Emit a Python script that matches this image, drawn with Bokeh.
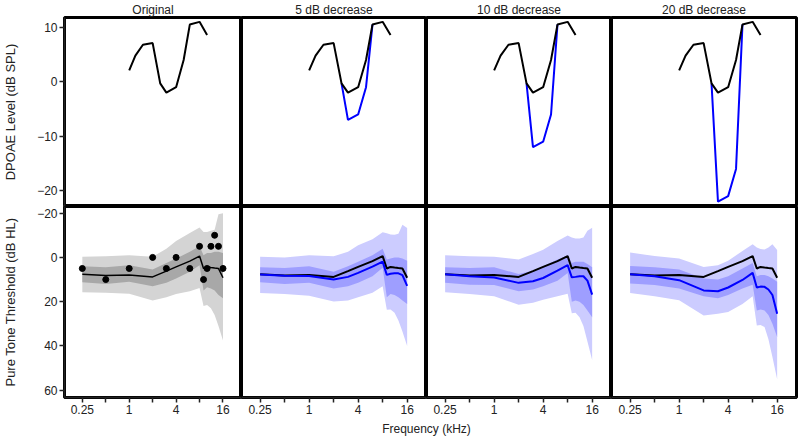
from bokeh.plotting import figure
from bokeh.layouts import gridplot, column
from bokeh.models import Range1d, FixedTicker
from bokeh.embed import file_html
from bokeh.resources import INLINE
from bokeh.core.properties import value

FONT = "Liberation Sans"

# ---------------- data ----------------
titles = ["Original", "5 dB decrease", "10 dB decrease", "20 dB decrease"]

# DPOAE (top row)
dp_freq = [1, 1.2, 1.5, 2, 2.5, 3, 4, 5, 6, 8, 10]
dp_orig = [2.1, 4.8, 6.8, 7.1, -0.3, -2.0, -1.0, 4.0, 10.5, 11.0, 8.6]
dp_dec_freq = [2.5, 3, 4, 5, 6]
dp_dec = {
    "5":  [-0.3, -7.0, -6.0, -1.0, 10.5],
    "10": [-0.3, -12.0, -11.0, -6.0, 10.5],
    "20": [-0.3, -22.0, -21.0, -16.0, 10.5],
}

# Pure tone thresholds (bottom row)
pt_freq = [0.25, 0.5, 1, 2, 3, 4, 6, 8, 9, 10, 11.2, 12.5, 14, 16]
pt_measured = [5, 10, 5, 0, 5, 0, 5, -5, 10, 5, -5, -10, -5, 5]

orig_med    = [7.6, 8.2, 7.9, 8.8, 6.2, 4.3, 1.7, -0.6, 5.0, 4.3, 4.6, 4.8, 5.0, 9.2]
orig_in_lo  = [4.0, 4.5, 3.6, 5.5, 2.5, 0.5, -2.5, -5.0, -1.0, -2.0, -2.0, -2.5, -2.5, -2.0]
orig_in_hi  = [11.2, 12.0, 11.0, 13.0, 11.5, 9.5, 6.5, 3.5, 15.0, 13.5, 14.0, 15.0, 17.0, 18.5]
orig_out_lo = [-0.3, -0.5, -1.0, -0.3, -3.9, -7.4, -11.0, -13.5, -11.5, -11.5, -12.0, -12.5, -19.5, -20.0]
orig_out_hi = [15.8, 16.0, 16.4, 19.5, 18.0, 16.5, 15.3, 13.8, 22.0, 21.5, 23.0, 26.0, 31.0, 37.5]

dec_med = {
    "5":  [7.7, 8.3, 8.4, 10.0, 8.8, 7.0, 4.2, 1.9, 7.9, 7.4, 7.2, 7.2, 8.0, 12.9],
    "10": [7.6, 8.5, 9.1, 11.5, 10.8, 9.3, 6.0, 3.5, 9.0, 8.8, 8.5, 8.5, 10.5, 16.8],
    "20": [7.6, 8.5, 10.3, 14.9, 15.3, 13.6, 10.2, 7.0, 13.6, 13.2, 13.3, 14.5, 17.0, 25.5],
}
dec_in_lo = {
    "5":  [4.4, 4.8, 4.0, 6.5, 4.0, 2.0, -1.0, -3.9, 1.0, 0.5, 0.0, 0.0, 0.5, 1.5],
    "10": [4.4, 4.8, 4.5, 7.5, 6.0, 4.0, 1.0, -0.9, 2.5, 2.0, 2.0, 2.0, 3.0, 4.5],
    "20": [3.9, 4.5, 5.5, 9.5, 10.0, 8.5, 5.0, 2.5, 8.5, 8.0, 8.0, 8.5, 9.5, 11.0],
}
dec_in_hi = {
    "5":  [11.2, 12.0, 11.5, 14.0, 13.0, 11.5, 8.5, 4.7, 18.0, 16.5, 17.0, 18.0, 19.5, 21.0],
    "10": [11.5, 12.3, 12.5, 15.3, 14.5, 13.0, 10.5, 7.0, 20.0, 19.5, 20.0, 21.5, 24.0, 27.0],
    "20": [11.8, 12.5, 14.0, 17.6, 18.5, 17.0, 14.0, 12.3, 24.0, 23.5, 24.0, 26.0, 30.0, 36.0],
}
dec_out_lo = {
    "5":  [-0.3, 0.0, -1.0, -0.5, -2.5, -5.5, -8.2, -11.4, -10.9, -10.4, -10.2, -10.7, -14.7, -13.3],
    "10": [-1.0, -0.5, -0.3, 0.9, -1.5, -3.5, -7.4, -9.9, -9.0, -8.5, -8.5, -9.0, -12.0, -13.4],
    "20": [-2.2, -0.6, 0.5, 4.3, 3.5, 1.5, -2.9, -5.9, -4.5, -3.8, -3.6, -4.5, -5.9, -3.3],
}
dec_out_hi = {
    "5":  [16.1, 16.5, 17.3, 19.9, 19.5, 18.0, 16.0, 13.0, 23.6, 23.5, 25.0, 28.5, 33.5, 40.0],
    "10": [15.8, 16.5, 17.5, 21.4, 20.5, 19.1, 17.5, 16.4, 25.2, 25.0, 27.0, 31.0, 38.0, 46.4],
    "20": [16.1, 17.5, 19.4, 26.2, 25.5, 24.7, 21.0, 17.6, 30.8, 30.5, 31.5, 37.0, 45.0, 55.0],
}

x_ticks = [0.25, 0.5, 1, 2, 4, 8, 16]
x_tick_labels = {0.25: "0.25", 0.5: "", 1: "1", 2: "", 4: "4", 8: "", 16: "16"}
top_y_ticks = [-20, -10, 0, 10]
bot_y_ticks = [-20, 0, 20, 40, 60]

# ---------------- styling ----------------
X_RANGE = (0.1476, 27.66)
TOP_Y = (-22.9, 11.8)
BOT_Y = (63.3, -23.0)  # inverted
LEFT = 56
PW = 185
PH = 191
TITLE_H = 15
BOTTOM_H = 20
LAB_H = 20

GRAY_OUT = "#d4d4d4"
GRAY_IN = "#a8a8a8"
BLUE_OUT = "#ccccff"
BLUE_IN = "#9e9eff"
BLUE = "#0000ff"
AXC = "#222222"


def style_axis(ax):
    ax.major_tick_out = 5
    ax.major_tick_in = 0
    ax.minor_tick_out = 0
    ax.minor_tick_in = 0
    ax.axis_line_color = AXC
    ax.axis_line_width = 1.5
    ax.major_tick_line_color = AXC
    ax.major_tick_line_width = 1.5
    ax.major_label_text_font = FONT
    ax.major_label_text_font_size = "12px"
    ax.major_label_text_color = AXC
    ax.major_label_standoff = 2
    ax.axis_label_text_font = FONT
    ax.axis_label_text_font_size = "13px"
    ax.axis_label_text_font_style = "normal"
    ax.axis_label_text_color = AXC


def make_fig(row, col):
    w = PW + (LEFT if col == 0 else 0) + (2 if col == 3 else 0)
    h = (TITLE_H + PH) if row == 0 else (PH + BOTTOM_H)
    yr = TOP_Y if row == 0 else BOT_Y
    p = figure(
        width=w, height=h,
        x_axis_type="log",
        x_range=Range1d(*X_RANGE), y_range=Range1d(*yr),
        x_axis_location=("below" if row == 1 else None),
        y_axis_location=("left" if col == 0 else None),
        output_backend="svg", toolbar_location=None,
        min_border_left=(LEFT if col == 0 else 0),
        min_border_right=(2 if col == 3 else 0),
        min_border_top=(TITLE_H if row == 0 else 0),
        min_border_bottom=(BOTTOM_H if row == 1 else 0),
    )
    p.outline_line_color = "black"
    p.outline_line_width = 3
    p.outline_line_alpha = 1.0
    p.grid.visible = False
    if row == 0:
        p.title.text = titles[col]
        p.title.align = "center"
        p.title.text_font = FONT
        p.title.text_font_size = "12px"
        p.title.text_font_style = "normal"
        p.title.text_color = AXC
        p.title.standoff = 1
    if row == 1:
        ax = p.xaxis[0]
        style_axis(ax)
        ax.ticker = FixedTicker(ticks=x_ticks)
        ax.major_label_overrides = x_tick_labels
    if col == 0:
        ay = p.yaxis[0]
        style_axis(ay)
        ay.ticker = FixedTicker(ticks=(top_y_ticks if row == 0 else bot_y_ticks))
        ay.axis_label = "DPOAE Level (dB SPL)" if row == 0 else "Pure Tone Threshold (dB HL)"
        ay.axis_label_standoff = 16
    return p


keys = [None, "5", "10", "20"]
top_row, bot_row = [], []
for c in range(4):
    # top: DPOAE
    pt = make_fig(0, c)
    k = keys[c]
    if k is not None:
        pt.line(dp_dec_freq, dp_dec[k], line_color=BLUE, line_width=2)
    pt.line(dp_freq, dp_orig, line_color="black", line_width=2)
    top_row.append(pt)

    # bottom: pure tone thresholds
    pb = make_fig(1, c)
    if k is None:
        pb.varea(x=pt_freq, y1=orig_out_lo, y2=orig_out_hi, fill_color=GRAY_OUT)
        pb.varea(x=pt_freq, y1=orig_in_lo, y2=orig_in_hi, fill_color=GRAY_IN)
        pb.line(pt_freq, orig_med, line_color="black", line_width=1.5)
        pb.scatter(pt_freq, pt_measured, size=6, fill_color="black", line_color="black")
    else:
        pb.varea(x=pt_freq, y1=dec_out_lo[k], y2=dec_out_hi[k], fill_color=BLUE_OUT)
        pb.varea(x=pt_freq, y1=dec_in_lo[k], y2=dec_in_hi[k], fill_color=BLUE_IN)
        pb.line(pt_freq, orig_med, line_color="black", line_width=2)
        pb.line(pt_freq, dec_med[k], line_color=BLUE, line_width=2)
    bot_row.append(pb)

grid = gridplot([top_row, bot_row], toolbar_location=None)

# shared x-axis label
lab = figure(width=LEFT + 4 * PW + 2, height=LAB_H,
             x_range=Range1d(0, 1), y_range=Range1d(0, 1),
             x_axis_location=None, y_axis_location=None,
             output_backend="svg", toolbar_location=None,
             min_border_left=LEFT, min_border_right=2, min_border_top=0, min_border_bottom=0)
lab.outline_line_color = None
lab.grid.visible = False
lab.text(x=[0.5], y=[0.45], text=["Frequency (kHz)"], text_align="center",
         text_baseline="middle", text_font=value(FONT), text_font_size="12px",
         text_color=AXC)

layout = column(grid, lab)

open("out.html", "w").write(file_html(layout, INLINE))
